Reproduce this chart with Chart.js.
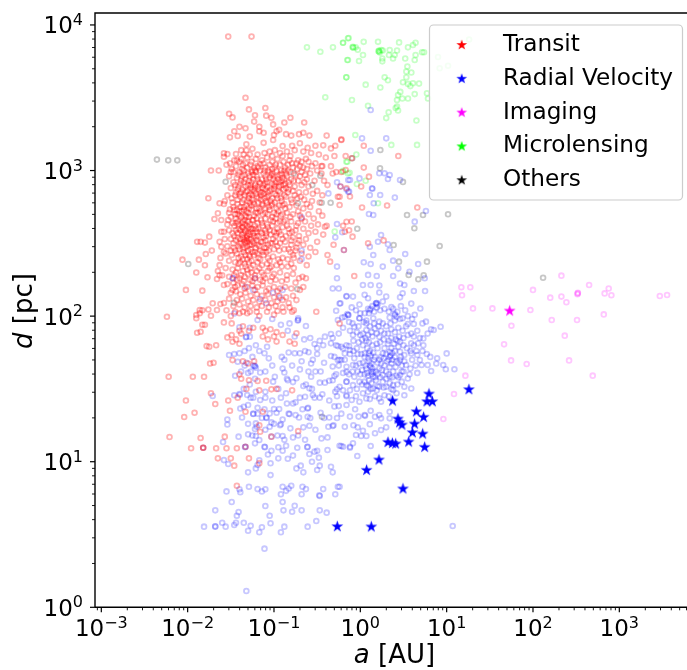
<!DOCTYPE html>
<html>
<head>
<meta charset="utf-8">
<script src="https://cdn.jsdelivr.net/npm/chart.js@4/dist/chart.umd.min.js"></script>
<style>
  html, body { margin: 0; padding: 0; background: #fff; }
  canvas { display: block; }
</style>
</head>
<body>
<canvas id="chart" width="687" height="670"></canvas>
<script>
// All points are [log10(a), log10(d)]
const transitPoints = [
[-1.53,3.92],[-1.26,3.92],[-1.33,3.50],[-1.29,3.42],[-1.10,3.43],[-1.52,3.39],[-1.48,3.365],[-1.22,3.38],[-1.09,3.377],[-1.03,3.363],[-1.23,3.336],[-.81,3.363],[-.88,3.33],[-1.01,3.317],[-.65,3.33],[-1.40,3.30],[-1.33,3.29],[-1.46,3.27],[-1.17,3.30],[-1.17,3.27],[-.94,3.28],[-.97,3.27],[-1.12,3.26],[-1.42,3.237],[-1.51,3.228],[-1.28,3.233],[-1.00,3.244],[-.86,3.25],[-.80,3.24],[-.71,3.25],[-.66,3.26],[-.59,3.24],[-.39,3.24],[-.22,3.214],[-1.01,3.21],[-1.32,3.18],[-1.12,3.19],[-.90,3.168],[-.79,3.17],[-.70,3.187],[-.61,3.157],[-.52,3.17],[-.43,3.173],[-.29,3.17],[-.34,3.152],[-1.58,3.118],[-1.54,3.113],[-1.58,3.095],[-1.44,3.113],[-1.38,3.14],[-1.32,3.14],[-.99,3.14],[-1.25,3.15],[-1.05,3.13],[-.93,3.12],[-.85,3.13],[-.76,3.14],[-.66,3.13],[-.57,3.12],[-.48,3.11],[-.40,3.09],[-.30,3.10],[-.17,3.10],[-.22,3.21],[.04,3.17],[.44,3.10],[-.10,3.084],
[-1.73,3.00],[-1.64,3.00],[-1.51,3.05],[-1.55,3.04],[-1.50,2.99],[-1.76,2.81],[-1.63,2.775],[-1.57,2.79],[-1.51,2.733],[-1.65,2.706],[-1.69,2.667],[-1.61,2.66],[-1.53,2.66],[-1.89,2.51],[-1.85,2.51],[-1.80,2.505],[-1.75,2.546],[-1.72,2.45],[-1.79,2.427],[-1.61,2.477],[-2.06,2.388],[-1.87,2.388],[-1.80,2.349],[-1.90,2.30],[-1.77,2.267],[-1.63,2.35],[-1.65,2.31],[-1.63,2.28],[-1.66,2.255],[-2.02,2.18],[-1.83,2.175],[-1.58,2.214],[-1.48,2.18],[-1.62,2.40],[-1.58,2.44],[-1.61,2.58],[-1.57,2.53],[-1.63,2.51],
[-2.24,1.996],[-1.86,2.042],[-1.90,2.008],[-1.83,2.04],[-1.71,2.088],[-1.62,2.083],[-1.66,2.042],[-1.76,2.045],[-1.73,2.003],[-1.55,2.04],[-1.58,2.09],[-1.50,2.00],[-1.45,2.03],[-1.40,2.02],[-1.36,2.03],[-1.31,2.02],[-1.28,2.03],[-1.20,2.03],[-1.17,2.00],[-1.08,2.03],[-1.00,2.01],[-.96,2.035],[-.89,2.03],[-.79,2.03],[-.77,2.04],[-.51,2.03],
[-1.90,1.985],[-1.86,2.02],[-1.83,1.94],[-1.80,1.94],[-1.89,1.886],[-1.85,1.893],[-1.58,1.957],[-1.49,1.95],[-1.54,1.854],[-1.49,1.87],[-1.48,1.824],[-1.78,1.794],[-1.75,1.79],[-1.67,1.80],[-1.44,1.84],[-1.38,1.88],[-1.40,1.81],[-1.48,1.698],[-1.74,1.675],[-1.70,1.68],[-1.36,1.69],[-1.30,1.675],[-1.23,1.69],[-1.13,1.92],[-1.10,1.90],[-1.04,1.91],[-.97,1.89],[-.90,1.87],[-.97,1.825],[-.82,1.825],[-.76,1.81],[-.74,1.882],[-1.13,1.86],[-1.24,1.92],[-1.40,1.90],[-1.36,1.93],[-1.29,1.90],[-1.00,1.86],[-1.07,1.84],
[-2.22,1.584],[-1.94,1.584],[-1.81,1.584],[-1.40,1.60],[-1.38,1.57],[-1.29,1.56],[-1.19,1.555],[-1.09,1.556],[-1.73,1.47],[-2.02,1.42],[-1.68,1.396],[-1.53,1.42],[-1.42,1.44],[-1.32,1.50],[-1.17,1.49],[-1.03,1.497],[-.97,1.50],[-1.92,1.336],[-2.04,1.307],[-1.51,1.35],[-1.33,1.343],[-1.13,1.343],[-.79,1.49],[-2.21,1.17],[-1.85,1.163],[-1.57,1.172],[-1.17,1.25],[-1.16,1.206],[-1.03,1.172],[-.72,1.21],[-1.96,1.092],[-1.82,1.096],[-1.67,1.092],[-1.55,1.092],[-1.43,1.092],[-1.33,1.103],[-1.65,1.023],[-1.50,1.023],[-1.46,.973],[-1.29,1.023],[-1.17,.99],[-1.43,.835],[-1.82,1.096],[-.19,2.454],
[.04,3.02],[.10,2.958],[-.17,3.004],[-.22,2.99],[.01,2.89],[-.12,2.822],[-.24,2.82],[-.16,2.878],[.02,2.746],[.31,2.76],[.66,2.746],[-.10,2.65],[-.20,2.62],[-.18,2.58],[-.09,2.546],[.09,2.50],[.27,2.52],[-.07,2.276],[-.13,2.59],[-.16,2.648],[-.41,2.614],[-.38,2.42],[-.31,2.49],[-.35,2.374],[-.24,2.763],[-.26,2.82],[-.32,2.98],[-.28,2.99],[-.44,3.03],[-.34,3.03],[-.24,1.95],[-.23,2.89],
// dense core
[-1.46,3.07],[-1.38,3.08],[-1.31,3.09],[-1.26,3.06],[-1.21,3.08],[-1.14,3.07],[-1.08,3.09],[-1.02,3.06],[-.96,3.08],[-.89,3.06],[-.82,3.07],[-.74,3.05],[-.68,3.06],[-.60,3.06],[-.52,3.05],[-.45,3.03],
[-1.44,3.03],[-1.36,3.04],[-1.31,3.02],[-1.27,3.04],[-1.19,3.03],[-1.16,3.045],[-1.10,3.02],[-1.05,3.04],[-.99,3.02],[-.93,3.04],[-.87,3.02],[-.84,3.04],[-.78,3.02],[-.73,3.01],[-.70,3.03],[-.66,3.02],[-.62,3.01],[-.56,3.03],[-.50,3.00],
[-1.47,2.99],[-1.40,2.99],[-1.35,3.00],[-1.30,2.98],[-1.25,3.00],[-1.21,2.99],[-1.16,3.00],[-1.12,2.98],[-1.07,3.00],[-1.02,2.98],[-.97,3.00],[-.91,2.98],[-.88,3.00],[-.81,2.99],[-.75,2.97],[-.68,2.99],[-.64,2.97],[-.58,2.98],[-.45,2.98],
[-1.52,2.96],[-1.43,2.95],[-1.37,2.96],[-1.33,2.94],[-1.28,2.96],[-1.24,2.94],[-1.20,2.96],[-1.14,2.94],[-1.10,2.96],[-1.05,2.95],[-1.00,2.96],[-.95,2.94],[-.90,2.95],[-.85,2.96],[-.80,2.94],[-.72,2.93],[-.62,2.94],[-.53,2.93],[-.42,2.93],[-.38,2.90],
[-1.47,2.92],[-1.39,2.91],[-1.35,2.92],[-1.30,2.90],[-1.26,2.92],[-1.22,2.90],[-1.17,2.92],[-1.12,2.90],[-1.08,2.92],[-1.02,2.91],[-.98,2.92],[-.92,2.90],[-.87,2.91],[-.82,2.90],[-.76,2.89],[-.68,2.90],[-.60,2.89],[-.50,2.86],[-.44,2.83],
[-1.50,2.88],[-1.42,2.87],[-1.36,2.87],[-1.31,2.86],[-1.27,2.88],[-1.23,2.86],[-1.18,2.87],[-1.14,2.85],[-1.10,2.87],[-1.05,2.86],[-1.00,2.875],[-.95,2.86],[-.89,2.87],[-.84,2.85],[-.78,2.86],[-.71,2.85],[-.63,2.85],[-.55,2.84],
[-1.54,2.83],[-1.45,2.83],[-1.39,2.82],[-1.34,2.83],[-1.29,2.81],[-1.25,2.83],[-1.20,2.82],[-1.15,2.83],[-1.11,2.81],[-1.06,2.83],[-1.02,2.81],[-.97,2.83],[-.92,2.81],[-.86,2.82],[-.80,2.80],[-.73,2.81],[-.65,2.80],[-.56,2.79],[-.47,2.78],
[-1.58,2.77],[-1.48,2.78],[-1.42,2.77],[-1.37,2.78],[-1.32,2.76],[-1.28,2.78],[-1.23,2.77],[-1.18,2.78],[-1.13,2.76],[-1.08,2.78],[-1.03,2.76],[-.99,2.78],[-.94,2.76],[-.88,2.77],[-.82,2.75],[-.74,2.76],[-.66,2.74],[-.58,2.75],[-.48,2.72],
[-1.46,2.73],[-1.40,2.72],[-1.35,2.73],[-1.30,2.71],[-1.26,2.73],[-1.21,2.71],[-1.16,2.72],[-1.10,2.71],[-1.05,2.73],[-1.00,2.71],[-.95,2.72],[-.90,2.70],[-.85,2.71],[-.78,2.70],[-.70,2.69],[-.60,2.70],[-.54,2.67],[-.44,2.69],
[-1.50,2.68],[-1.44,2.67],[-1.38,2.68],[-1.34,2.66],[-1.29,2.68],[-1.25,2.66],[-1.20,2.67],[-1.15,2.66],[-1.10,2.67],[-1.04,2.66],[-.98,2.67],[-.93,2.65],[-.87,2.66],[-.80,2.65],[-.72,2.64],[-.64,2.65],[-.57,2.62],[-.49,2.63],[-.39,2.62],
[-1.54,2.63],[-1.46,2.62],[-1.41,2.63],[-1.36,2.61],[-1.31,2.62],[-1.27,2.60],[-1.22,2.62],[-1.18,2.60],[-1.13,2.62],[-1.07,2.61],[-1.02,2.62],[-.96,2.60],[-.90,2.61],[-.83,2.60],[-.75,2.59],[-.66,2.60],[-.60,2.57],[-.52,2.58],[-.43,2.56],
[-1.58,2.58],[-1.48,2.57],[-1.42,2.57],[-1.37,2.56],[-1.33,2.58],[-1.28,2.56],[-1.24,2.57],[-1.19,2.55],[-1.14,2.57],[-1.09,2.55],[-1.04,2.56],[-.98,2.55],[-.92,2.56],[-.86,2.55],[-.78,2.54],[-.71,2.55],[-.63,2.53],[-.50,2.51],
[-1.50,2.53],[-1.44,2.52],[-1.39,2.53],[-1.34,2.51],[-1.29,2.53],[-1.25,2.51],[-1.20,2.52],[-1.15,2.51],[-1.10,2.52],[-1.04,2.50],[-.98,2.51],[-.93,2.50],[-.87,2.51],[-.80,2.49],[-.73,2.50],[-.66,2.49],[-.58,2.47],[-.52,2.44],
[-1.54,2.48],[-1.47,2.47],[-1.41,2.48],[-1.36,2.46],[-1.31,2.48],[-1.27,2.46],[-1.21,2.47],[-1.16,2.45],[-1.11,2.47],[-1.06,2.45],[-1.00,2.46],[-.94,2.45],[-.88,2.46],[-.81,2.44],[-.75,2.45],[-.68,2.43],[-.60,2.41],
[-1.56,2.43],[-1.49,2.42],[-1.43,2.43],[-1.38,2.41],[-1.33,2.42],[-1.28,2.41],[-1.23,2.42],[-1.18,2.40],[-1.12,2.42],[-1.07,2.40],[-1.01,2.41],[-.95,2.39],[-.90,2.40],[-.84,2.39],[-.77,2.40],[-.70,2.38],[-.62,2.35],
[-1.52,2.38],[-1.45,2.37],[-1.39,2.37],[-1.34,2.36],[-1.29,2.37],[-1.24,2.35],[-1.19,2.37],[-1.14,2.35],[-1.08,2.36],[-1.03,2.34],[-.97,2.35],[-.91,2.34],[-.84,2.34],[-.77,2.33],
[-1.56,2.33],[-1.48,2.32],[-1.42,2.33],[-1.36,2.31],[-1.31,2.32],[-1.26,2.30],[-1.20,2.31],[-1.14,2.30],[-1.07,2.31],[-1.00,2.29],[-.93,2.30],[-.85,2.28],[-.78,2.29],[-.67,2.27],
[-1.60,2.28],[-1.52,2.27],[-1.46,2.28],[-1.40,2.26],[-1.34,2.27],[-1.28,2.25],[-1.22,2.26],[-1.16,2.25],[-1.10,2.26],[-1.04,2.24],[-.98,2.25],[-.91,2.24],[-.85,2.25],[-.75,2.23],[-.71,2.26],[-.63,2.26],
[-1.54,2.22],[-1.47,2.23],[-1.42,2.21],[-1.37,2.22],[-1.31,2.20],[-1.25,2.21],[-1.19,2.20],[-1.13,2.21],[-1.06,2.19],[-1.00,2.20],[-.93,2.19],[-.87,2.20],[-.80,2.19],[-.70,2.18],[-.66,2.20],
[-1.50,2.16],[-1.44,2.17],[-1.39,2.15],[-1.33,2.16],[-1.27,2.14],[-1.20,2.15],[-1.14,2.14],[-1.07,2.15],[-1.00,2.13],[-.94,2.14],[-.86,2.13],[-.78,2.14],
[-1.52,2.12],[-1.43,2.11],[-1.37,2.12],[-1.30,2.10],[-1.24,2.11],[-1.17,2.10],[-1.10,2.11],[-1.03,2.09],[-.96,2.10],[-.90,2.11],[-.83,2.09],[-.74,2.11],
[-1.47,2.07],[-1.40,2.08],[-1.34,2.06],[-1.27,2.07],[-1.20,2.06],[-1.14,2.07],[-1.06,2.06],[-.98,2.07],[-.90,2.06],[-.82,2.06]
];
// second pass over the darkest part of the transit cloud
const transitCore = [
[-1.37,3.01],[-1.29,2.93],[-1.41,2.97],[-1.18,3.02],[-1.09,2.94],[-.98,3.04],[-.86,2.98],[-1.33,2.89],[-1.24,2.97],[-1.13,2.88],[-1.03,2.97],[-.94,2.89],[-.83,2.92],[-1.38,2.85],[-1.27,2.84],[-1.16,2.91],[-1.07,2.85],[-.96,2.96],[-.88,2.94],[-1.42,2.80],[-1.31,2.79],[-1.21,2.84],[-1.09,2.79],[-.99,2.84],[-.91,2.79],[-.83,2.87],
[-1.35,2.75],[-1.26,2.76],[-1.17,2.74],[-1.06,2.75],[-.97,2.74],[-.87,2.74],[-1.40,2.69],[-1.32,2.72],[-1.23,2.69],[-1.13,2.70],[-1.02,2.68],[-.92,2.69],[-1.36,2.65],[-1.28,2.63],[-1.19,2.64],[-1.08,2.63],[-.96,2.64],[-.85,2.62],[-1.41,2.60],[-1.34,2.59],[-1.25,2.60],[-1.16,2.58],[-1.05,2.59],[-.94,2.58],[-.82,2.57],
[-1.36,2.54],[-1.31,2.55],[-1.27,2.53],[-1.21,2.54],[-1.12,2.54],[-1.01,2.53],[-.90,2.53],[-1.40,2.50],[-1.33,2.50],[-1.28,2.49],[-1.23,2.50],[-1.17,2.48],[-1.07,2.49],[-.96,2.48],[-1.35,2.44],[-1.30,2.45],[-1.25,2.44],[-1.19,2.43],[-1.09,2.44],[-1.37,2.61],[-1.42,2.65],[-1.39,2.59],[-1.32,2.52],[-1.345,2.525],[-1.315,2.535],
[-1.45,2.90],[-1.44,2.85],[-1.49,2.81],[-1.47,2.75],[-1.52,2.71],[-1.45,2.70],[-1.48,2.64],[-1.52,2.59],[-1.46,2.55],[-1.47,2.50],[-1.45,2.45],[-1.50,2.45],[-1.41,2.40],[-1.36,2.39],[-1.31,2.39],[-1.26,2.38],[-1.16,2.39],[-1.05,2.38],[-.93,2.37],[-.80,2.36],
[-.77,2.93],[-.70,2.96],[-.65,2.92],[-.76,2.83],[-.69,2.82],[-.62,2.77],[-.79,2.78],[-.72,2.72],[-.81,2.68],[-.74,2.62],[-.68,2.67],[-.79,2.58],[-.71,2.52],[-.80,2.52],[-.74,2.47],[-.83,2.46],[-.78,2.42],
[-1.12,3.05],[-1.02,3.01],[-.92,3.00],[-1.23,3.02],[-1.33,3.05],[-1.40,3.06],[-1.49,3.01],[-.79,3.05],[-.72,3.07],[-.63,3.08],[-1.28,3.11],[-1.19,3.11],[-1.11,3.12],[-1.02,3.10],[-.90,3.10],[-.81,3.10],[-1.35,3.11],[-1.43,3.07],
[-1.25,2.87],[-1.15,2.80],[-1.04,2.79],[-1.20,2.74],[-1.10,2.74],[-1.30,2.65],[-1.21,2.60],[-1.10,2.59],[-1.00,2.58],[-1.27,2.58],[-1.34,2.63],[-1.32,2.68],[-1.37,2.72],[-1.43,2.73],[-1.24,2.78],[-1.16,2.85],[-1.08,2.89],[-.99,2.89],[-.91,2.93],[-1.19,2.94],[-1.26,2.99],[-1.05,2.99],[-.94,2.92],
// third pass, the blocks that stay nearly solid red in the picture
[-1.34,2.97],[-1.22,3.00],[-1.11,3.00],[-1.01,2.94],[-.93,2.97],[-.84,3.00],[-1.38,2.93],[-1.27,2.90],[-1.19,2.89],[-1.10,2.91],[-1.00,2.90],[-.89,2.90],[-1.41,2.89],[-1.33,2.85],[-1.22,2.88],[-1.12,2.84],[-1.03,2.87],[-.93,2.85],[-.86,2.88],[-1.40,2.84],[-1.29,2.83],[-1.18,2.81],[-1.08,2.82],[-.96,2.81],[-.88,2.83],[-1.35,2.80],[-1.25,2.80],[-1.14,2.77],[-1.02,2.77],[-.90,2.76],
[-1.39,2.75],[-1.29,2.74],[-1.19,2.71],[-1.07,2.70],[-.97,2.70],[-1.42,2.70],[-1.33,2.69],[-1.24,2.66],[-1.14,2.64],[-1.01,2.65],[-.89,2.65],[-1.44,2.64],[-1.37,2.64],[-1.29,2.61],[-1.20,2.58],[-1.09,2.57],[-.97,2.57],[-1.44,2.59],[-1.35,2.57],[-1.30,2.57],[-1.23,2.55],[-1.13,2.51],[-1.02,2.50],[-1.42,2.54],[-1.38,2.50],[-1.31,2.51],[-1.26,2.49],[-1.19,2.49],[-1.09,2.47],[-1.40,2.46],[-1.34,2.47],[-1.29,2.42],[-1.22,2.44],[-1.13,2.44],
[-1.41,2.36],[-1.33,2.34],[-1.27,2.33],[-1.17,2.33],[-1.05,2.33],[-1.44,2.30],[-1.38,2.28],[-1.30,2.29],[-1.22,2.28],[-1.12,2.28],[-1.02,2.27],[-1.43,2.25],[-1.35,2.24],[-1.25,2.24],[-1.13,2.24],[-1.45,2.20],[-1.34,2.19],[-1.22,2.18],[-1.09,2.17],[-.96,2.17]
];
const rvPoints = [
[-1.32,.112],[-1.11,.403],[-1.81,.554],[-1.68,.554],[-1.68,.556],[-1.60,.581],[-1.56,.554],[-1.46,.565],[-1.44,.58],[-1.35,.581],[-1.27,.56],[-1.30,.526],[-1.14,.55],[-1.17,.515],[-1.04,.577],[-.92,.515],[-.88,.554],[-.61,.554],[-.51,.593],
[-1.68,.666],[-1.43,.629],[-1.41,.654],[-1.05,.629],[-1.10,.696],[-.89,.666],[-.79,.656],[-.76,.698],[-.68,.666],[-.47,.666],[-.39,.65],[-.90,.723],[-1.49,.723],
[-1.55,.796],[-1.40,.81],[-1.39,.79],[-1.29,.828],[-1.19,.812],[-1.14,.796],[-1.10,.81],[-.92,.776],[-.90,.828],[-.86,.80],[-.83,.816],[-.80,.835],[-.68,.776],[-.67,.828],[-.63,.812],[-.47,.765],[-.475,.77],[-.43,.812],[-.29,.776],[-.26,.828],
[-1.30,.927],[-1.04,.908],[-1.21,.954],[-1.19,.977],[-1.04,.989],[-1.17,1.01],[-.95,1.023],[-.78,1.042],[-.74,.954],[-.69,.973],[-.66,.927],[-.50,.943],[-.47,.973],[-.34,.965],[-.32,.927],[-1.58,1.011],[-1.53,.984],
[-1.33,1.103],[-1.335,1.10],[-1.22,1.126],[-1.11,1.103],[-1.03,1.075],[-.95,1.099],[-.90,1.075],[-.86,1.11],[-.73,1.096],[-.61,1.103],[-.59,1.053],[-.53,1.069],[-.50,1.075],[-.48,1.028],[-.22,1.108],[-.12,1.096],[-1.82,1.096],[-1.03,1.172],[-1.105,1.10],[-.615,1.10],
[-1.41,1.172],[-1.30,1.188],[-1.25,1.18],[-1.21,1.177],[-1.17,1.149],[-.90,1.177],[-.88,1.15],[-.78,1.167],[-.45,1.16],[-.38,1.167],
[-1.22,1.224],[-1.20,1.24],[-1.10,1.22],[-1.05,1.24],[-.92,1.258],[-.81,1.229],[-.66,1.236],[-.59,1.247],[-.37,1.24],[-.32,1.245],[-.31,1.25],
[-1.54,1.29],[-1.54,1.256],[-1.37,1.304],[-1.21,1.263],[-1.09,1.304],[-1.085,1.30],[-1.03,1.27],[-1.00,1.26],[-.93,1.25],
[-1.24,1.328],[-1.19,1.33],[-1.05,1.332],[-.97,1.336],[-.82,1.327],[-.75,1.32],[-.71,1.304],[-.61,1.309],[-.58,1.30],[-.46,1.336],[-.36,1.304],[-1.24,1.33],
[-1.71,1.451],[-1.59,1.135],[-1.39,1.366],[-1.35,1.378],[-1.30,1.39],[-1.19,1.371],[-1.11,1.36],[-1.00,1.362],[-.94,1.362],[-.85,1.40],[-.75,1.408],[-.61,1.366],[-.605,1.37],[-.25,1.382],[-.36,1.42],
[-1.46,1.457],[-1.40,1.465],[-1.395,1.46],[-1.31,1.458],[-1.24,1.44],[-1.16,1.424],[-1.10,1.44],[-1.10,1.481],[-.92,1.44],[-.64,1.446],[-.55,1.458],[-.53,1.44],[-.44,1.463],[-.29,1.48],[-.27,1.497],[-.16,1.45],
[-.99,1.584],[-1.01,1.55],[-.78,1.547],[-.66,1.52],[-.63,1.53],[-.59,1.504],[-.57,1.584],[-.47,1.543],[-.41,1.543],[-.36,1.556],[-.32,1.56],[-.30,1.588],[-.16,1.55],[-.95,1.50],
[-1.22,1.657],[-1.225,1.655],[-1.30,1.61],[-1.16,1.613],[-1.42,1.687],[-.90,1.64],[-.88,1.613],[-.85,1.57],[-.74,1.573],[-.70,1.634],[-.57,1.675],[-.55,1.70],[-.32,1.654],[-.26,1.698],[-.16,1.617],
[-1.52,1.733],[-1.46,1.74],[-1.40,1.745],[-1.34,1.76],[-1.21,1.80],[-1.11,1.745],[-.76,1.745],[-.70,1.745],[-.60,1.752],[-.50,1.74],[-.34,1.726],[-.24,1.70],[-.20,1.778],
[-1.40,1.923],[-1.32,1.859],[-1.325,1.855],[-1.28,1.859],[-1.19,1.973],[-.82,1.95],[-.72,1.973],[-.725,1.97],[-.63,1.932],[-.65,1.84],[-.53,1.808],[-.47,1.83],[-.41,1.859],[-.34,1.877],[-.34,1.813],[-.26,1.794],[-.12,1.767],[-.26,1.973],[-.18,1.996],
// core around 1 AU
[-.14,2.008],[-.21,1.99],[-.01,1.985],[.07,1.95],[-.07,1.927],[-.09,1.95],[.15,1.985],[.22,1.962],[.34,1.99],[.40,2.008],[.49,1.985],[.55,1.946],[.62,1.946],[.72,1.95],[.76,1.962],[.82,1.909],[.85,1.905],[.93,1.927],[.78,1.88],[.73,1.847],[.59,1.88],[.46,1.824],[.32,1.88],[.22,1.859],[.17,1.915],[.07,1.904],[.03,1.88],[-.085,1.87],[.59,1.813],[.67,1.813],[.73,1.80],[1.00,1.744],[.89,1.71],[.88,1.675],[.96,1.664],[.99,1.635],[1.09,1.635],[.78,1.664],[.71,1.664],[.82,1.623],[.69,1.698],[.66,1.733],[.59,1.744],[.51,1.733],[.46,1.755],[.34,1.755],[.34,1.721],[.37,1.745],[.26,1.744],[.15,1.749],[.05,1.744],[.09,1.71],[-.07,1.71],[-.16,1.80],[-.22,1.79],[-.13,1.794],[-.18,1.744],[-.22,1.698],[-.16,1.652],[-.18,1.70],[-.085,1.664],[-.01,1.675],[.07,1.64],[.13,1.675],[.13,1.618],[.15,1.583],[.24,1.675],[.26,1.595],[.36,1.675],[.34,1.583],[.46,1.698],[.46,1.595],[.55,1.572],[.53,1.664],[.59,1.503],[.51,1.515],[.38,1.526],[.30,1.515],[.22,1.515],[.15,1.503],[.07,1.526],[-.01,1.55],[-.07,1.583],[-.16,1.55],[-.085,1.526],[-.24,1.515],[-.16,1.457],[-.10,1.424],[-.01,1.412],[.07,1.435],[.22,1.435],[.28,1.457],[.38,1.492],[.51,1.457],[.24,1.412],[.12,1.35],[.05,1.32],[.055,1.315],[.17,1.309],[.22,1.32],[.24,1.298],[.34,1.343],[.34,1.298],[.11,1.258],[-.03,1.236],[.03,1.213],[-.05,1.183],[.01,1.177],[.07,1.177],[.17,1.195],[.24,1.218],[.30,1.236],[-.085,1.126],[-.20,1.103],[-.24,1.11],[-.12,1.103],[.12,1.108],[-.035,1.039],[1.07,.558],[-.24,.828],
[.05,1.72],[.08,1.78],[.03,1.80],[.10,1.82],[.14,1.80],[.20,1.78],[.24,1.72],[.28,1.78],[.32,1.81],[.36,1.78],[.40,1.72],[.44,1.79],[.50,1.80],[.41,1.84],[.36,1.85],[.27,1.84],[.14,1.86],[.06,1.85],[-.02,1.82],[-.04,1.78],[.01,1.74],
[.03,1.68],[.06,1.66],[.10,1.69],[.16,1.70],[.20,1.68],[.22,1.64],[.18,1.62],[.14,1.64],[.11,1.66],[.08,1.61],[.05,1.60],[.02,1.63],[-.03,1.62],[-.05,1.66],[.28,1.66],[.31,1.69],[.34,1.65],[.38,1.62],[.41,1.65],[.44,1.68],[.48,1.66],[.50,1.62],[.42,1.59],[.30,1.62],[.25,1.63],
[.10,1.56],[.13,1.54],[.09,1.52],[.12,1.50],[.18,1.56],[.23,1.58],[.26,1.55],[.30,1.57],[.34,1.54],[.05,1.55],[.02,1.53],[.20,1.52],
[.13,1.60],[.15,1.62],[.12,1.65],[.35,1.73],[.37,1.70],[.33,1.70],[.40,1.76],[.30,1.74],[.17,1.72],[.12,1.73],[.10,1.745],[.11,1.76],
// upper part of the 1 AU cloud
[.12,3.416],[.02,3.221],[.30,3.221],[.12,3.136],[.22,2.981],[.28,2.981],[.34,2.969],[.32,2.942],[.46,2.935],[-.12,2.935],[-.01,2.946],[.135,2.878],[.14,2.875],[.11,2.832],[.23,2.832],[.40,2.814],[-.14,2.855],[.155,2.775],[.76,2.722],[.10,2.701],[.15,2.695],[.63,2.649],[.24,2.557],[.205,2.511],[.11,2.477],[.32,2.493],[.34,2.454],[.15,2.42],[.52,2.427],[.38,2.381],[.04,2.37],[.12,2.358],[.44,2.328],[.26,2.34],[.67,2.358],[.57,2.305],[.38,2.276],[.09,2.283],[.19,2.276],[.746,2.26],[.46,2.224],[.03,2.214],[.12,2.214],[.22,2.21],[.51,2.214],[.49,2.157],[.62,2.173],[.75,2.173],[.46,2.129],[-.16,2.138],[-.085,2.134],[.05,2.146],[.09,2.123],[.22,2.162],[.30,2.134],[.26,2.10],[.185,2.09],[-.01,2.08],[.20,2.08],[.11,2.04],[.36,2.063],[.59,2.086],[.695,2.052],[.63,2.009],[.40,2.015],[.42,1.995],[-.14,2.008],[-.01,1.985],[.07,1.97],[-.24,2.086],[.18,2.085],[.19,2.09],[.12,2.05],[.10,2.02],
[-.27,2.92],[-.37,2.843],[-.23,2.89],[-.16,2.87],[-.13,2.855],[-.14,2.935],[-.68,2.678],[-.27,2.633],[-.21,2.576],[-.29,2.541],[-.68,2.45],[-.68,2.392],[-.19,2.454],[-.27,2.34],[-.27,2.26],[-.25,2.19],[-.32,2.19],[-1.33,2.2],[-1.24,2.18],[-1.475,2.26],[-1.48,2.26],[-1.22,2.26],[-1.01,2.161],[-.90,2.18],[-.93,2.127],[-1.16,2.118],[-1.09,2.088],[-1.46,2.018],[-.72,1.985],[-.23,2.088],[-.16,2.134],[-.15,2.015],[-.28,2.037]
];
// second pass over the blue cloud, which spreads wider than the first list
const rvCore = [
[.16,2.03],[.19,2.06],[.23,2.04],[.14,2.07],[.09,2.05],[.05,2.02],[.28,2.05],[.33,2.03],[.38,2.05],[.43,2.03],[.46,1.98],[.40,1.97],[.35,1.95],[.30,1.93],[.26,1.95],[.21,1.93],[.16,1.95],[.11,1.93],[.04,1.96],[-.02,1.93],[.00,2.02],[-.05,2.04],[-.10,2.06],[.47,2.07],[.52,2.04],[.55,2.00],[.60,1.98],
[.44,1.92],[.49,1.90],[.53,1.93],[.40,1.89],[.36,1.91],[.28,1.88],[.24,1.90],[.19,1.88],[.13,1.89],[.09,1.87],[.00,1.87],[-.04,1.89],[-.12,1.90],[.45,1.86],[.50,1.85],[.55,1.87],[.62,1.86],[.66,1.90],[.69,1.85],[.39,1.81],[.43,1.83],[.33,1.83],[.23,1.82],[.19,1.81],[.07,1.83],[.02,1.84],[-.08,1.83],[.54,1.78],[.58,1.76],[.62,1.80],[.65,1.76],[.72,1.76],[.77,1.74],[.81,1.72],[.47,1.72],[.51,1.69],[.42,1.69],[.27,1.71],[.22,1.70],[-.03,1.74],[-.12,1.74],[-.08,1.76],
[.60,1.70],[.64,1.66],[.58,1.64],[.66,1.61],[.57,1.60],[.48,1.62],[.44,1.58],[.37,1.58],[.33,1.60],[.20,1.60],[.17,1.58],[.09,1.59],[.00,1.60],[-.09,1.62],[-.13,1.60],[-.20,1.61],[.48,1.55],[.43,1.53],[.36,1.50],[.27,1.51],[.19,1.49],[.09,1.48],[.03,1.47],[-.04,1.50],[-.12,1.49],[-.20,1.49],[.42,1.47],[.33,1.45],[.17,1.45],[.11,1.43],[-.05,1.45],
[-.28,1.60],[-.25,1.66],[-.30,1.72],[-.28,1.80],[-.32,1.85],[-.25,1.88],[-.20,1.92],[-.13,1.96],[-.27,1.45],[-.30,1.38],[-.22,1.33],[-.16,1.39],[-.12,1.31],[-.18,1.24],[-.08,1.25],[-.02,1.31],[-.06,1.36],
[-.46,1.62],[-.42,1.68],[-.50,1.78],[-.43,1.80],[-.56,1.50],[-.47,1.44],[-.68,1.69],[-.79,1.66],[-.83,1.75],[-.91,1.72],[-1.02,1.66],[-1.10,1.62],[-1.06,1.71],[-1.17,1.76],[-1.25,1.72],[-1.29,1.78],[-1.32,1.68],[-1.38,1.62],[-1.45,1.59],[-1.28,1.53],[-1.22,1.57],[-1.21,1.48],[-1.02,1.42],[-.86,1.47],[-.78,1.40],[-.70,1.44],[-.67,1.36],[-.83,1.33],[-.90,1.29],[-1.14,1.30],[-1.30,1.26],[-.72,1.18],[-.64,1.15],[-.42,1.30],[-.52,1.22],[-.27,1.30],[-.96,1.18],[-1.07,1.05],[-.84,1.02],[-.56,1.00],[-.38,1.08],
[-1.34,1.66],[-1.27,1.62],[-1.24,1.66],[-1.21,1.645],[-1.35,1.50],[-1.27,1.44],[-.88,1.70],[-.84,1.56],[-.60,1.62],[-.52,1.62],[-.64,1.76],[-.58,1.85],[-.76,1.86],[-.84,1.90],[-.92,1.94],[-1.02,1.98],[-1.08,1.79],[-1.28,1.92]
];
const rvStars = [
[.374,1.417],[.795,1.465],[.772,1.412],[.834,1.412],[.649,1.343],[.733,1.305],[.436,1.293],[.455,1.268],[.482,1.252],[.629,1.259],[.603,1.199],[.722,1.19],[.56,1.135],[.32,1.133],[.371,1.126],[.409,1.122],[.745,1.099],[.216,1.012],[.073,.941],[.494,.813],[1.258,1.495],[.127,.552],[-.267,.554]
];
const imagingPoints = [
[1.17,2.198],[1.274,2.198],[1.178,2.143],[1.305,2.053],[1.53,2.053],[1.97,2.042],[2.0,2.18],[2.2,2.127],[2.329,2.278],[2.329,2.134],[2.387,2.095],[2.518,2.156],[2.52,2.16],[2.515,2.15],[2.65,2.214],[2.83,2.156],[2.877,2.19],[2.908,2.143],[2.82,2.012],[3.469,2.138],[3.553,2.145],
[1.75,1.934],[2.217,1.973],[2.51,1.973],[2.368,1.866],[1.665,1.806],[1.746,1.696],[1.927,1.671],[2.418,1.696],[1.217,1.591],[2.692,1.591],[1.085,1.465],[.962,1.293]
];
const imagingStars = [[1.73,2.035]];
const microPoints = [
[-.2,3.878],[-.135,3.91],[-.09,3.846],[-.085,3.85],[-.08,3.843],[-.054,3.846],[-.03,3.83],[.039,3.884],[.031,3.794],[-.015,3.752],[-.143,3.759],[.205,3.884],[.21,3.82],[.216,3.817],[.22,3.825],[.225,3.81],[.243,3.828],[.26,3.825],[.255,3.77],[.255,3.75],[.34,3.828],[.332,3.794],[.379,3.77],[.398,3.794],[.425,3.825],[.449,3.88],[.552,3.846],[.61,3.862],[.64,3.878],[.52,3.77],[.64,3.794],[.63,3.759],[.715,3.812],[.738,3.812],[.9,3.78],[.919,3.703],[1.016,3.72],[1.26,3.9],[.545,3.714],[.533,3.68],[.591,3.673],[-.162,3.64],[.282,3.64],[.32,3.62],[.533,3.64],[.494,3.606],[.552,3.595],[.58,3.58],[.61,3.6],[.68,3.597],[.062,3.59],[.232,3.57],[.463,3.54],[.437,3.518],[.425,3.484],[.487,3.495],[.552,3.495],[.63,3.525],[.772,3.53],[.784,3.495],[-.097,3.484],[.425,3.439],[.089,3.445],[.41,3.43],[.437,3.412],[.328,3.4],[.3,3.36],[.65,3.344],[-.058,3.244],[.359,3.176],[.657,3.176],[-.046,3.11],[-.15,3.06],[-.124,2.985],[.062,2.93],[-.04,2.908],[.205,2.775],[-.2,2.999],
[-.618,3.846],[-.463,3.816],[-.317,3.846],[-.2,3.878],[-.143,3.908],[-.151,3.759],[-.162,3.64],[-.406,3.503],[-.162,3.061],[-.2,2.992],[-.143,2.98],[-.297,2.581]
];
const otherPoints = [
[-2.356,3.075],[-2.225,3.07],[-2.12,3.07],[-1.56,2.923],[-.772,2.98],[-.463,2.965],[-.556,2.9],[-.722,2.775],[-.448,2.779],[-.344,2.779],[-1.993,2.358],[-.73,2.186],[-1.464,2.092],
[.232,3.141],[-.093,3.084],[.228,3.015],[.494,2.922],[.541,2.695],[.726,2.695],[1.016,2.7],[.626,2.604],[-.035,2.6],[.386,2.489],[.919,2.482],[.448,2.374],[.772,2.374],[.56,2.283],[.734,2.28],[.672,2.253],[2.117,2.264],[-.444,1.309]
];

const legendLabels = ["Transit", "Radial Velocity", "Imaging", "Microlensing", "Others"];
const legendColors = ["#ff0000", "#0000ff", "#ff00ff", "#00ff00", "#000000"];
const xMajorTicks = [1e-3, 1e-2, 1e-1, 1e0, 1e1, 1e2, 1e3];
const yMajorTicks = [1e0, 1e1, 1e2, 1e3, 1e4];

const FONT = '"DejaVu Sans"';

// star marker, same shape as the matplotlib one
function makeStar(color, r) {
  const c = document.createElement("canvas");
  const size = Math.ceil(r * 2 + 2);
  c.width = size;
  c.height = size;
  const g = c.getContext("2d");
  g.fillStyle = color;
  g.beginPath();
  for (let i = 0; i < 10; i++) {
    const rad = i % 2 === 0 ? r : r * 0.382;
    const ang = -Math.PI / 2 + (i * Math.PI) / 5;
    g.lineTo(size / 2 + rad * Math.cos(ang), size / 2 + rad * Math.sin(ang));
  }
  g.closePath();
  g.fill();
  return c;
}

const toXY = (pts) => pts.map((p) => ({ x: 10 ** p[0], y: 10 ** p[1] }));

function ringSet(label, pts, rgb, alpha) {
  return {
    label,
    data: toXY(pts),
    pointStyle: "circle",
    pointRadius: 2.4,
    pointBorderWidth: 1.8,
    pointBackgroundColor: "transparent",
    pointBorderColor: `rgba(${rgb},${alpha})`,
  };
}

function starSet(label, pts, color) {
  return {
    label,
    data: toXY(pts),
    pointStyle: makeStar(color, 6.2),
    pointRadius: 6,
  };
}

// every power of ten plus the 2..9 steps, kept inside the axis range
function logTicks(scale) {
  const out = [];
  for (let e = -4; e <= 5; e++) {
    for (let m = 1; m < 10; m++) {
      const v = m * 10 ** e;
      if (v >= scale.min && v <= scale.max) out.push({ value: v, major: m === 1 });
    }
  }
  scale.ticks = out;
}

function expLabel(value) {
  return String(Math.round(Math.log10(value))).replace("-", "\u2212");
}

const axisPlugin = {
  id: "axisPlugin",
  afterDraw(chart) {
    const { ctx, chartArea: area, scales } = chart;
    ctx.save();
    ctx.strokeStyle = "#000";
    ctx.fillStyle = "#000";

    // spines
    ctx.lineWidth = 1.4;
    ctx.beginPath();
    ctx.moveTo(area.left, area.bottom);
    ctx.lineTo(area.left, area.top);
    ctx.lineTo(area.right, area.top);
    ctx.moveTo(area.left, area.bottom);
    ctx.lineTo(area.right, area.bottom);
    ctx.stroke();

    // tick marks
    scales.x.ticks.forEach((t) => {
      const px = scales.x.getPixelForValue(t.value);
      ctx.lineWidth = t.major ? 1.2 : 0.9;
      ctx.beginPath();
      ctx.moveTo(px, area.bottom);
      ctx.lineTo(px, area.bottom + (t.major ? 5 : 3));
      ctx.stroke();
    });
    scales.y.ticks.forEach((t) => {
      const py = scales.y.getPixelForValue(t.value);
      ctx.lineWidth = t.major ? 1.2 : 0.9;
      ctx.beginPath();
      ctx.moveTo(area.left, py);
      ctx.lineTo(area.left - (t.major ? 5 : 3), py);
      ctx.stroke();
    });

    // tick labels, 10 with a raised exponent
    ctx.textBaseline = "alphabetic";
    ctx.textAlign = "left";
    xMajorTicks.forEach((v) => {
      const px = scales.x.getPixelForValue(v);
      const exp = expLabel(v);
      ctx.font = `23px ${FONT}`;
      const w1 = ctx.measureText("10").width;
      ctx.font = `16px ${FONT}`;
      const w2 = ctx.measureText(exp).width;
      const x0 = px - (w1 + w2) / 2;
      ctx.font = `23px ${FONT}`;
      ctx.fillText("10", x0, 636);
      ctx.font = `16px ${FONT}`;
      ctx.fillText(exp, x0 + w1, 628);
    });
    yMajorTicks.forEach((v) => {
      const py = scales.y.getPixelForValue(v);
      const exp = expLabel(v);
      ctx.font = `16px ${FONT}`;
      const w2 = ctx.measureText(exp).width;
      ctx.font = `23px ${FONT}`;
      const w1 = ctx.measureText("10").width;
      const x0 = 83 - w1 - w2;
      ctx.fillText("10", x0, py + 8.5);
      ctx.font = `16px ${FONT}`;
      ctx.fillText(exp, x0 + w1, py);
    });

    // axis titles, italic symbol then plain unit
    ctx.font = `italic 26px ${FONT}`;
    const aW = ctx.measureText("a").width;
    ctx.font = `26px ${FONT}`;
    const aUnit = " [AU]";
    const aTotal = aW + ctx.measureText(aUnit).width;
    const ax0 = 394.5 - aTotal / 2;
    ctx.font = `italic 26px ${FONT}`;
    ctx.fillText("a", ax0, 663);
    ctx.font = `26px ${FONT}`;
    ctx.fillText(aUnit, ax0 + aW, 663);

    ctx.save();
    ctx.translate(32, 311);
    ctx.rotate(-Math.PI / 2);
    ctx.font = `italic 26px ${FONT}`;
    const dW = ctx.measureText("d").width;
    ctx.font = `26px ${FONT}`;
    const dUnit = " [pc]";
    const dTotal = dW + ctx.measureText(dUnit).width;
    ctx.font = `italic 26px ${FONT}`;
    ctx.fillText("d", -dTotal / 2, 0);
    ctx.font = `26px ${FONT}`;
    ctx.fillText(dUnit, -dTotal / 2 + dW, 0);
    ctx.restore();

    // legend box
    ctx.beginPath();
    ctx.roundRect(429.5, 25, 253, 175, 4);
    ctx.fillStyle = "rgba(255,255,255,0.8)";
    ctx.fill();
    ctx.strokeStyle = "#cccccc";
    ctx.lineWidth = 1.2;
    ctx.stroke();
    ctx.font = `23.2px ${FONT}`;
    ctx.fillStyle = "#000";
    legendLabels.forEach((name, i) => {
      const y = 45 + i * 33.8;
      const star = makeStar(legendColors[i], 5.6);
      ctx.drawImage(star, 461.7 - star.width / 2, y - star.height / 2);
      ctx.fillText(name, 503, y + 6);
    });
    ctx.restore();
  },
};

new Chart(document.getElementById("chart"), {
  type: "scatter",
  data: {
    datasets: [
      ringSet("Transit", transitPoints.concat(transitCore), "255,0,0", 0.3),
      ringSet("Radial Velocity", rvPoints.concat(rvCore), "0,0,255", 0.22),
      ringSet("Imaging", imagingPoints, "255,0,255", 0.22),
      ringSet("Microlensing", microPoints, "0,255,0", 0.22),
      ringSet("Others", otherPoints, "0,0,0", 0.22),
      starSet("Radial Velocity (star)", rvStars, "#0000ff"),
      starSet("Imaging (star)", imagingStars, "#ff00ff"),
    ],
  },
  options: {
    responsive: false,
    animation: false,
    layout: { autoPadding: false, padding: { left: 95, top: 13, right: 0, bottom: 62.7 } },
    plugins: { legend: { display: false }, tooltip: { enabled: false } },
    scales: {
      x: {
        type: "logarithmic",
        min: 8.45e-4,
        max: 6080,
        afterBuildTicks: logTicks,
        grid: { display: false, drawTicks: false },
        border: { display: false },
        ticks: { display: false, autoSkip: false },
      },
      y: {
        type: "logarithmic",
        min: 1,
        max: 12080,
        afterBuildTicks: logTicks,
        grid: { display: false, drawTicks: false },
        border: { display: false },
        ticks: { display: false, autoSkip: false },
      },
    },
  },
  plugins: [axisPlugin],
});
</script>
</body>
</html>
